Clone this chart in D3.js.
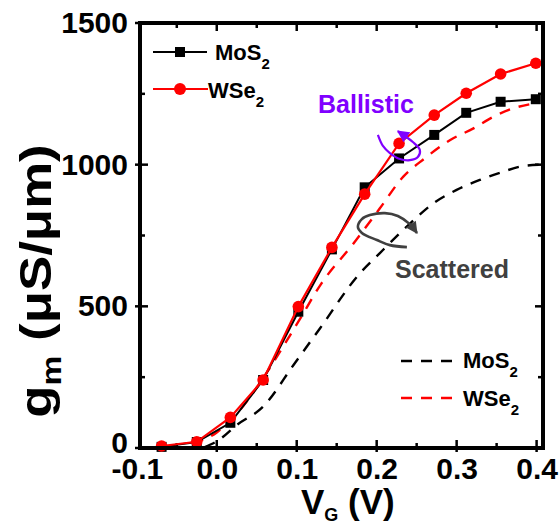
<!DOCTYPE html>
<html lang="en">
<head>
    <meta charset="UTF-8">
    <title>gm vs VG</title>
    <script src="https://cdn.jsdelivr.net/npm/d3@7"></script>
    <style>
        body { margin: 0; background: #fff; }
        text { font-family: "Liberation Sans", Arial, sans-serif; font-weight: bold; }
    </style>
</head>
<body>
    <svg width="559" height="526" id="mainsvg"></svg>
    <script>
        // ballistic (symbols + solid line)
        const VG = [-0.069, -0.025, 0.017, 0.058, 0.102, 0.144, 0.185, 0.228, 0.272, 0.312, 0.355, 0.399];
        const gmMoS2 = [4, 21, 89, 240, 481, 701, 920, 1022, 1105, 1183, 1222, 1231];
        const gmWSe2 = [7, 22, 108, 240, 499, 708, 896, 1075, 1175, 1252, 1320, 1358];

        // scattered (dashed)
        const VGscatMoS2 = [-0.015, 0.0015, 0.025, 0.058, 0.096, 0.129, 0.177, 0.204, 0.242, 0.271, 0.300, 0.329, 0.358, 0.379, 0.404];
        const gmScatMoS2 = [3, 26, 81, 146, 293, 422, 610, 688, 793, 864, 911, 946, 975, 993, 1000];
        const VGscatWSe2 = [-0.03, 0.0, 0.029, 0.062, 0.102, 0.131, 0.171, 0.204, 0.233, 0.260, 0.292, 0.321, 0.346, 0.371, 0.404];
        const gmScatWSe2 = [15, 55, 134, 264, 446, 581, 722, 846, 957, 1022, 1087, 1128, 1169, 1199, 1219];

        const xTicks = [-0.1, 0.0, 0.1, 0.2, 0.3, 0.4];
        const xMinor = [-0.05, 0.05, 0.15, 0.25, 0.35];
        const yTicks = [0, 500, 1000, 1500];
        const yMinor = [250, 750, 1250];

        // annotation loops, in data units
        const ballisticArc = [[0.2015, 1105], [0.2078, 1066], [0.2165, 1041], [0.229, 1020], [0.2415, 1016],
            [0.2515, 1027], [0.254, 1052], [0.2452, 1080], [0.2352, 1101], [0.2265, 1118]];
        const scatteredArc = [[0.2378, 709], [0.2165, 716], [0.2003, 734], [0.1815, 759], [0.1765, 780],
            [0.1815, 808], [0.1915, 822], [0.2103, 829], [0.2265, 819], [0.2415, 790], [0.2503, 759]];

        const svg = d3.select('#mainsvg');
        const margin = { top: 23, right: 16, bottom: 78, left: 140 };
        const width = +svg.attr('width');
        const height = +svg.attr('height');

        const x = d3.scaleLinear().domain([-0.096, 0.408]).range([margin.left, width - margin.right]);
        const y = d3.scaleLinear().domain([0, 1500]).range([height - margin.bottom, margin.top]);
        const [x0, x1] = x.range();
        const [y0, y1] = y.range();

        const defs = svg.append('defs');
        function arrow(id, color, w, h) {
            defs.append('marker')
                .attr('id', id)
                .attr('viewBox', '0 0 10 10')
                .attr('refX', 9).attr('refY', 5)
                .attr('markerUnits', 'userSpaceOnUse')
                .attr('markerWidth', w).attr('markerHeight', h)
                .attr('orient', 'auto')
                .append('path')
                .attr('d', 'M0,0 L10,5 L0,10 Z')
                .attr('fill', color);
        }
        arrow('arrPurple', '#8000ff', 13, 12);
        arrow('arrGray', '#404040', 14, 12);

        // ticks: majors cross the frame, minors point in
        const tickG = svg.append('g').attr('stroke', 'black').attr('stroke-width', 2.5);
        const xIn = xTicks.filter(v => v >= x.domain()[0] && v <= x.domain()[1]);
        xIn.forEach(v => {
            tickG.append('line').attr('x1', x(v)).attr('x2', x(v)).attr('y1', y0 + 4).attr('y2', y0 - 8);
            tickG.append('line').attr('x1', x(v)).attr('x2', x(v)).attr('y1', y1).attr('y2', y1 + 8);
        });
        xMinor.forEach(v => {
            tickG.append('line').attr('x1', x(v)).attr('x2', x(v)).attr('y1', y0).attr('y2', y0 - 5);
            tickG.append('line').attr('x1', x(v)).attr('x2', x(v)).attr('y1', y1).attr('y2', y1 + 5);
        });
        yTicks.forEach(v => {
            tickG.append('line').attr('y1', y(v)).attr('y2', y(v)).attr('x1', x0 - 5).attr('x2', x0 + 8);
            tickG.append('line').attr('y1', y(v)).attr('y2', y(v)).attr('x1', x1).attr('x2', x1 - 8);
        });
        yMinor.forEach(v => {
            tickG.append('line').attr('y1', y(v)).attr('y2', y(v)).attr('x1', x0).attr('x2', x0 + 5);
            tickG.append('line').attr('y1', y(v)).attr('y2', y(v)).attr('x1', x1).attr('x2', x1 - 5);
        });

        // tick labels through d3 axes (no lines)
        const xAxis = svg.append('g')
            .attr('transform', `translate(0,${y0})`)
            .call(d3.axisBottom(x).tickValues(xTicks).tickSize(0).tickPadding(10)
                .tickFormat(d => d.toFixed(1)));
        const yAxis = svg.append('g')
            .attr('transform', `translate(${x0},0)`)
            .call(d3.axisLeft(y).tickValues(yTicks).tickSize(0).tickPadding(12).tickFormat(d => String(d)));
        [xAxis, yAxis].forEach(a => {
            a.select('.domain').remove();
            a.selectAll('text').attr('font-size', 30).attr('font-family', '"Liberation Sans", Arial, sans-serif')
                .attr('font-weight', 'bold').attr('fill', 'black');
        });
        xAxis.selectAll('text').attr('dy', '0.71em');
        // the "0" sits a little high so it clears "-0.1"
        yAxis.selectAll('.tick').filter(d => d === 0).select('text').attr('dy', '0.15em');

        // curves
        const dashLine = d3.line().x(d => x(d[0])).y(d => y(d[1])).curve(d3.curveMonotoneX);
        svg.append('path')
            .attr('d', dashLine(d3.zip(VGscatMoS2, gmScatMoS2)))
            .attr('fill', 'none').attr('stroke', 'black').attr('stroke-width', 2.4)
            .attr('stroke-dasharray', '11,9');
        svg.append('path')
            .attr('d', dashLine(d3.zip(VGscatWSe2, gmScatWSe2)))
            .attr('fill', 'none').attr('stroke', '#ff0000').attr('stroke-width', 2.4)
            .attr('stroke-dasharray', '11,9');

        const solidLine = d3.line().x(d => x(d[0])).y(d => y(d[1]));
        svg.append('path')
            .attr('d', solidLine(d3.zip(VG, gmMoS2)))
            .attr('fill', 'none').attr('stroke', 'black').attr('stroke-width', 2);
        svg.append('g').selectAll('rect').data(d3.zip(VG, gmMoS2)).join('rect')
            .attr('x', d => x(d[0]) - 5).attr('y', d => y(d[1]) - 5)
            .attr('width', 10).attr('height', 10).attr('fill', 'black');

        svg.append('path')
            .attr('d', solidLine(d3.zip(VG, gmWSe2)))
            .attr('fill', 'none').attr('stroke', '#ff0000').attr('stroke-width', 2.2);
        svg.append('g').selectAll('circle').data(d3.zip(VG, gmWSe2)).join('circle')
            .attr('cx', d => x(d[0])).attr('cy', d => y(d[1]))
            .attr('r', 5.8).attr('fill', '#ff0000');

        // annotations
        const arcLine = d3.line().x(d => x(d[0])).y(d => y(d[1])).curve(d3.curveCatmullRom);
        svg.append('path').attr('d', arcLine(ballisticArc))
            .attr('fill', 'none').attr('stroke', '#8000ff').attr('stroke-width', 2.2)
            .attr('marker-end', 'url(#arrPurple)');
        svg.append('path').attr('d', arcLine(scatteredArc))
            .attr('fill', 'none').attr('stroke', '#404040').attr('stroke-width', 2.6)
            .attr('marker-end', 'url(#arrGray)');
        svg.append('text').attr('x', 318).attr('y', 113).attr('font-size', 25)
            .attr('fill', '#8000ff').text('Ballistic');
        svg.append('text').attr('x', 395).attr('y', 278).attr('font-size', 25)
            .attr('fill', '#404040').text('Scattered');

        // frame
        svg.append('rect')
            .attr('x', x0).attr('y', y1).attr('width', x1 - x0).attr('height', y0 - y1)
            .attr('fill', 'none').attr('stroke', 'black').attr('stroke-width', 4);

        // legends
        function label(gx, gy, base) {
            const t = svg.append('text').attr('x', gx).attr('y', gy).attr('font-size', 22).attr('fill', 'black');
            t.append('tspan').text(base);
            t.append('tspan').attr('font-size', 15).attr('dy', 9).text('2');
        }
        svg.append('line').attr('x1', 153).attr('x2', 207).attr('y1', 52).attr('y2', 52)
            .attr('stroke', 'black').attr('stroke-width', 2);
        svg.append('rect').attr('x', 175).attr('y', 47).attr('width', 10).attr('height', 10).attr('fill', 'black');
        label(215, 60, 'MoS');
        svg.append('line').attr('x1', 153).attr('x2', 208).attr('y1', 89).attr('y2', 89)
            .attr('stroke', '#ff0000').attr('stroke-width', 2.2);
        svg.append('circle').attr('cx', 180).attr('cy', 89).attr('r', 6).attr('fill', '#ff0000');
        label(208, 98, 'WSe');

        svg.append('line').attr('x1', 401).attr('x2', 453).attr('y1', 361).attr('y2', 361)
            .attr('stroke', 'black').attr('stroke-width', 2.4).attr('stroke-dasharray', '11,9');
        label(463, 368, 'MoS');
        svg.append('line').attr('x1', 401).attr('x2', 453).attr('y1', 398).attr('y2', 398)
            .attr('stroke', '#ff0000').attr('stroke-width', 2.4).attr('stroke-dasharray', '11,9');
        label(463, 406, 'WSe');

        // axis titles
        const xt = svg.append('text').attr('x', 301).attr('y', 514).attr('font-size', 35).attr('fill', 'black');
        xt.append('tspan').text('V');
        xt.append('tspan').attr('font-size', 18).attr('dy', 7).text('G');
        xt.append('tspan').attr('dy', -7).text(' (V)');

        const yt = svg.append('text')
            .attr('transform', 'translate(51,281) rotate(-90) scale(1.2,1)')
            .attr('text-anchor', 'middle').attr('font-size', 44).attr('fill', 'black');
        yt.append('tspan').text('g');
        yt.append('tspan').attr('font-size', 28).attr('dy', 10).text('m');
        yt.append('tspan').attr('dy', -10).text(' (\u03bcS/\u03bcm)');
    </script>
</body>
</html>
